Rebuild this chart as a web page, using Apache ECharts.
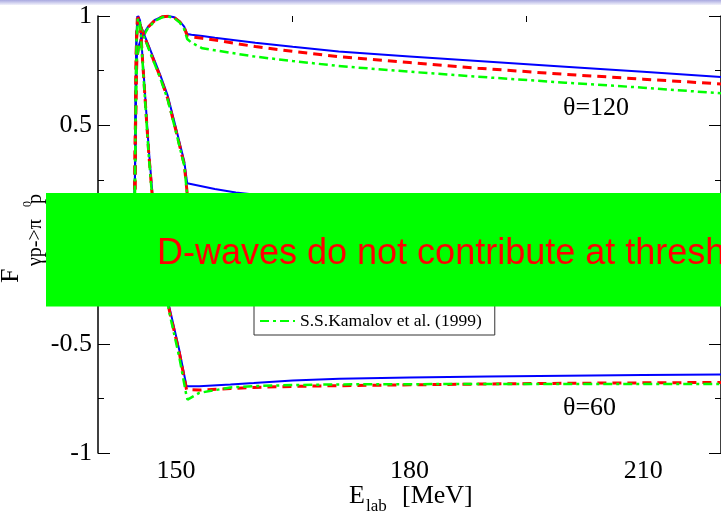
<!DOCTYPE html>
<html>
<head>
<meta charset="utf-8">
<script src="https://cdn.jsdelivr.net/npm/echarts@6/dist/echarts.min.js"></script>
<style>html,body{margin:0;padding:0;background:#fff;}#c{width:721px;height:517px;}</style>
</head>
<body>
<div id="c"></div>
<script>
// ---- data ----
const X_MAJOR = [150, 180, 210];
const X_MINOR = [165, 195];

// theta = 120
const E120 = [144.68, 144.8, 144.9, 145.0, 145.2, 145.6, 146.4, 147.3, 148.3, 149.0, 149.8, 150.5, 151.07, 151.45, 152, 153.4, 155, 160.2, 165, 170.9, 180, 188.8, 200, 210, 220];
const blue120 = [0, 0.45, 0.70, 0.82, 0.86, 0.905, 0.95, 0.982, 0.998, 1.0, 0.994, 0.975, 0.951, 0.918, 0.914, 0.908, 0.900, 0.878, 0.859, 0.837, 0.815, 0.794, 0.768, 0.745, 0.721];
const red120 = [0, 0.42, 0.68, 0.81, 0.855, 0.90, 0.947, 0.98, 0.997, 0.999, 0.993, 0.973, 0.948, 0.910, 0.905, 0.898, 0.890, 0.860, 0.838, 0.814, 0.787, 0.761, 0.733, 0.711, 0.689];
const green120 = [0, 0.40, 0.66, 0.80, 0.85, 0.895, 0.943, 0.978, 0.995, 0.998, 0.99, 0.97, 0.94, 0.895, 0.878, 0.852, 0.843, 0.814, 0.794, 0.771, 0.745, 0.722, 0.695, 0.672, 0.646];

// theta = 90
const E90 = [144.68, 144.8, 144.9, 145.05, 145.5, 145.96, 147.0, 148.0, 148.93, 150.01, 151.08, 151.45, 151.6, 155, 157.7, 160, 170, 190, 220];
const blue90 = [0, 0.5, 0.85, 1.0, 0.955, 0.913, 0.82, 0.73, 0.638, 0.487, 0.334, 0.235, 0.232, 0.208, 0.192, 0.183, 0.16, 0.13, 0.10];
const red90 = [0, 0.48, 0.83, 0.99, 0.95, 0.905, 0.81, 0.72, 0.625, 0.475, 0.32, 0.19, 0.08, 0.07, 0.065, 0.06, 0.05, 0.035, 0.02];
const green90 = [0, 0.46, 0.82, 0.985, 0.945, 0.90, 0.805, 0.715, 0.62, 0.47, 0.315, 0.18, 0.05, 0.04, 0.035, 0.03, 0.02, 0.01, 0.0];

// theta = 60
const E60 = [144.68, 144.8, 144.95, 145.15, 145.4, 145.7, 146.05, 146.5, 147.0, 148.0, 149.15, 150.43, 151.37, 151.5, 153, 157, 160, 165, 171, 180, 190, 200, 210, 220];
const blue60 = [0, 0.5, 0.92, 1.0, 0.98, 0.82, 0.64, 0.40, 0.18, -0.10, -0.33, -0.527, -0.695, -0.702, -0.695, -0.687, -0.680, -0.668, -0.660, -0.655, -0.650, -0.646, -0.643, -0.641];
const red60 = [0, 0.48, 0.90, 0.995, 0.975, 0.81, 0.62, 0.38, 0.16, -0.12, -0.345, -0.54, -0.71, -0.718, -0.712, -0.705, -0.700, -0.695, -0.692, -0.688, -0.684, -0.681, -0.679, -0.677];
const green60 = [0, 0.46, 0.89, 0.99, 0.97, 0.80, 0.61, 0.37, 0.15, -0.13, -0.355, -0.56, -0.74, -0.756, -0.725, -0.700, -0.694, -0.689, -0.686, -0.685, -0.684, -0.684, -0.684, -0.684];

const NAME_BLUE = 'model (solid)';
const NAME_RED = 'model (dashed)';
const NAME_KAM = 'S.S.Kamalov et al. (1999)';
const BANNER = 'D-waves do not contribute at threshold';

// ---- chart ----
const SERIF = '"Liberation Serif", "Times New Roman", serif';
const STYLE = {
  blue: {color: '#0000ff', width: 2, type: 'solid'},
  red: {color: '#ff0000', width: 3, type: [9, 6]},
  green: {color: '#00ff00', width: 2.5, type: [9, 4, 3, 4]}
};
function mk(name, E, Y, st) {
  return {
    type: 'line', name: name, xAxisIndex: 0, yAxisIndex: 0,
    data: E.map((e, i) => [e, Y[i]]),
    symbol: 'none', showSymbol: false, animation: false,
    lineStyle: {color: st.color, width: st.width, type: st.type},
    itemStyle: {color: st.color}
  };
}
const series = [
  mk(NAME_BLUE, E120, blue120, STYLE.blue), mk(NAME_RED, E120, red120, STYLE.red), mk(NAME_KAM, E120, green120, STYLE.green),
  mk(NAME_BLUE, E90, blue90, STYLE.blue), mk(NAME_RED, E90, red90, STYLE.red), mk(NAME_KAM, E90, green90, STYLE.green),
  mk(NAME_BLUE, E60, blue60, STYLE.blue), mk(NAME_RED, E60, red60, STYLE.red), mk(NAME_KAM, E60, green60, STYLE.green)
];

const axisLineStyle = {show: true, lineStyle: {color: '#000', width: 1.5}};
const labelStyle = {fontFamily: SERIF, fontSize: 26, color: '#000'};
function xAx(grid, pos, ticks, len, showLine, showLabel) {
  return {
    type: 'value', gridIndex: grid, position: pos, min: 140, max: 220,
    axisLine: showLine ? axisLineStyle : {show: false},
    axisTick: {show: true, inside: true, length: len, customValues: ticks, lineStyle: {color: '#000', width: 1}},
    axisLabel: showLabel ? Object.assign({show: true, margin: 5, customValues: ticks}, labelStyle) : {show: false},
    splitLine: {show: false}
  };
}
function yAx(grid, pos, showLabel, show) {
  return {
    type: 'value', gridIndex: grid, position: pos, min: -1, max: 1, interval: 0.5, show: show,
    axisLine: axisLineStyle,
    axisTick: {show: true, inside: true, length: 12, lineStyle: {color: '#000', width: 1}},
    minorTick: {show: true, splitNumber: 2, length: 6, lineStyle: {color: '#000', width: 1}},
    axisLabel: showLabel ? Object.assign({show: true, margin: 6}, labelStyle) : {show: false},
    splitLine: {show: false}, minorSplitLine: {show: false}
  };
}

const chart = echarts.init(document.getElementById('c'), null, {renderer: 'canvas'});
chart.setOption({
  animation: false,
  backgroundColor: '#ffffff',
  grid: [
    {left: 98, right: -2, top: 16, bottom: 64},
    {left: 98, right: -2, top: 16, bottom: 64}
  ],
  xAxis: [
    xAx(0, 'bottom', X_MAJOR, 12, true, true),
    xAx(0, 'top', X_MAJOR, 12, true, false),
    xAx(1, 'bottom', X_MINOR, 6, false, false),
    xAx(1, 'top', X_MINOR, 6, false, false)
  ],
  yAxis: [
    yAx(0, 'left', true, true),
    yAx(0, 'right', false, true),
    yAx(1, 'left', false, false)
  ],
  legend: {
    data: [NAME_KAM], left: 254, top: 272, orient: 'vertical',
    padding: [40, 13, 5, 5], itemWidth: 35, itemHeight: 14,
    borderColor: '#333', borderWidth: 1, backgroundColor: '#fff',
    selectedMode: false,
    itemStyle: {opacity: 0},
    textStyle: {fontFamily: SERIF, fontSize: 17.5, color: '#000'}
  },
  series: series,
  graphic: [
    {type: 'rect', z: 100, shape: {x: 0, y: 0, width: 721, height: 5},
      style: {fill: new echarts.graphic.LinearGradient(0, 0, 0, 1, [{offset: 0, color: '#a8a8e0'}, {offset: 1, color: '#f2f2fb'}])}},
    {type: 'rect', z: 100, shape: {x: 46, y: 193, width: 690, height: 113.5}, style: {fill: '#00ff00'}},
    {type: 'text', z: 101, x: 157, y: 254.5,
      style: {text: BANNER, fontFamily: '"Liberation Sans", Arial, sans-serif', fontSize: 36, fill: '#ff0000', align: 'left', verticalAlign: 'middle'}},
    {type: 'text', z: 50, x: 563, y: 108.3,
      style: {text: 'θ=120', fontFamily: SERIF, fontSize: 26, fill: '#000', align: 'left', verticalAlign: 'middle'}},
    {type: 'text', z: 50, x: 563, y: 408.5,
      style: {text: 'θ=60', fontFamily: SERIF, fontSize: 26, fill: '#000', align: 'left', verticalAlign: 'middle'}},
    // x axis title
    {type: 'text', z: 50, x: 349, y: 496.2,
      style: {text: 'E', fontFamily: SERIF, fontSize: 26, fill: '#000', align: 'left', verticalAlign: 'middle'}},
    {type: 'text', z: 50, x: 366, y: 506.3,
      style: {text: 'lab', fontFamily: SERIF, fontSize: 17, fill: '#000', align: 'left', verticalAlign: 'middle'}},
    {type: 'text', z: 50, x: 402, y: 496.2,
      style: {text: '[MeV]', fontFamily: SERIF, fontSize: 26, fill: '#000', align: 'left', verticalAlign: 'middle'}},
    // y axis title (rotated)
    {type: 'text', z: 50, x: 11.2, y: 283, rotation: Math.PI / 2,
      style: {text: 'F', fontFamily: SERIF, fontSize: 26, fill: '#000', align: 'left', verticalAlign: 'middle'}},
    {type: 'text', z: 50, x: 35.3, y: 266, rotation: Math.PI / 2,
      style: {text: 'γp->π', fontFamily: SERIF, fontSize: 20, fill: '#000', align: 'left', verticalAlign: 'middle'}},
    {type: 'text', z: 50, x: 28, y: 207, rotation: Math.PI / 2,
      style: {text: '0', fontFamily: SERIF, fontSize: 12, fill: '#000', align: 'left', verticalAlign: 'middle'}},
    {type: 'text', z: 50, x: 35.3, y: 204, rotation: Math.PI / 2,
      style: {text: 'p', fontFamily: SERIF, fontSize: 20, fill: '#000', align: 'left', verticalAlign: 'middle'}}
  ]
});
</script>
</body>
</html>
